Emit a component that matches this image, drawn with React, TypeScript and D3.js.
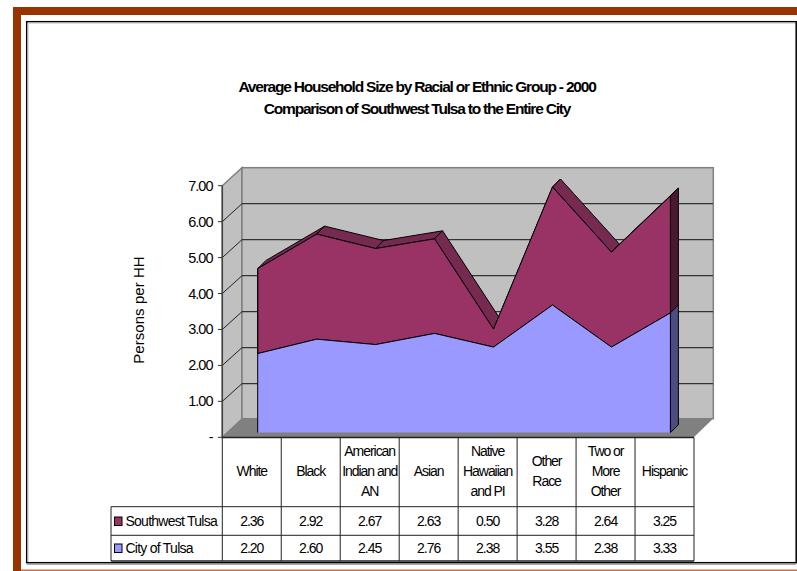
import React from "react";
import * as d3 from "d3";

const title = ["Average Household Size by Racial or Ethnic Group - 2000", "Comparison of Southwest Tulsa to the Entire City"];
const categories = [["White"], ["Black"], ["American", "Indian and", "AN"], ["Asian"], ["Native", "Hawaiian", "and PI"], ["Other", "Race"], ["Two or", "More", "Other"], ["Hispanic"]];
const southwest = [2.36, 2.92, 2.67, 2.63, 0.5, 3.28, 2.64, 3.25];
const city = [2.2, 2.6, 2.45, 2.76, 2.38, 3.55, 2.38, 3.33];
const ticks = [0, 1, 2, 3, 4, 5, 6, 7];
const FONT = "'Liberation Sans', Arial, sans-serif";

const yFront = d3.scaleLinear().domain([0, 7]).range([437.3, 185.7]);
const yBack = d3.scaleLinear().domain([0, 7]).range([419.6, 167.7]);
const ySeries = d3.scaleLinear().domain([0, 7]).range([432.7, 180.9]);
const xCol = d3.scaleLinear().domain([0, 8]).range([222.3, 694]);
const xSeries = d3.scaleLinear().domain([0, 7]).range([257.7, 670.4]);
const D = 8;

const pts = (a: number[][]) => a.map((p) => p.join(",")).join(" ");

export default function App() {
  const total = city.map((v, i) => v + southwest[i]);
  const line = d3.line<number>().x((_, i) => xSeries(i)).y((v) => ySeries(v));
  const area = (lo: number[] | null, hi: number[]) =>
    d3.area<number>().x((_, i) => xSeries(i)).y0((_, i) => ySeries(lo ? lo[i] : 0)).y1((v) => ySeries(v))(hi) as string;
  const txt = { fontFamily: FONT, fill: "#000" };
  const rows = [
    { name: "Southwest Tulsa", color: "#993366", vals: southwest, top: 506.7, bot: 535.3 },
    { name: "City of Tulsa", color: "#9999FF", vals: city, top: 535.3, bot: 560.7 },
  ];
  const lastX = xSeries(7);
  return (
    <svg width={797} height={571} style={{ position: "absolute", left: 0, top: 0, display: "block", background: "#fff" }}>
      {/* frame */}
      <rect x={13} y={7} width={784} height={8} fill="#993300" />
      <rect x={13} y={7} width={8} height={564} fill="#993300" />
      <rect x={21} y={569.5} width={776} height={1.5} fill="#C9704A" />
      <rect x={26.7} y={21.7} width={769.5} height={541} fill="#fff" stroke="#000" strokeWidth={1.5} />
      <line x1={28} y1={23} x2={795} y2={23} stroke="#bbb" />
      <line x1={28} y1={23} x2={28} y2={561} stroke="#bbb" />
      <line x1={27} y1={564.5} x2={796} y2={564.5} stroke="#aaa" />

      {/* title */}
      {title.map((t, i) => (
        <text key={t} x={417} y={92 + i * 22} textAnchor="middle" fontSize={15.5} fontWeight="bold" letterSpacing={-1.2} style={txt}>{t}</text>
      ))}
      <text transform="translate(144,310) rotate(-90)" textAnchor="middle" fontSize={15} letterSpacing={0.05} style={txt}>Persons per HH</text>

      {/* walls */}
      <polygon points={pts([[222.3, yFront(7)], [242, 167.7], [242, 419], [222.3, 437.3]])} fill="#C0C0C0" stroke="#808080" strokeWidth={1.5} />
      <rect x={242} y={167.7} width={471.3} height={251} fill="#C0C0C0" stroke="#808080" strokeWidth={1.5} />
      <polygon points={pts([[222.3, 437.3], [242, 418.5], [713.3, 418.5], [693.8, 437.3]])} fill="#808080" />
      {ticks.slice(1, 7).map((t) => (
        <g key={t} stroke="#333" strokeWidth={1.2}>
          <line x1={242} x2={713} y1={yBack(t)} y2={yBack(t)} />
          <line x1={222.3} x2={242} y1={yFront(t)} y2={yBack(t)} stroke="#222" strokeWidth={1} />
        </g>
      ))}
      <line x1={222.3} y1={185.7} x2={222.3} y2={437.3} stroke="#444" strokeWidth={1.5} />
      {ticks.map((t) => (
        <g key={t}>
          <line x1={218} x2={222.3} y1={yFront(t)} y2={yFront(t)} stroke="#333" />
          <text x={212.5} y={yFront(t) + 5} textAnchor="end" fontSize={14.5} letterSpacing={-1} style={txt}>{t === 0 ? "-" : t.toFixed(2)}</text>
        </g>
      ))}

      {/* top faces */}
      {total.slice(0, -1).map((v, i) => {
        const x0 = xSeries(i), x1 = xSeries(i + 1), y0 = ySeries(v), y1 = ySeries(total[i + 1]);
        return <polygon key={i} points={pts([[x0, y0], [x1, y1], [x1 + D, y1 - D], [x0 + D, y0 - D]])} fill="#772A50" stroke="#000" strokeWidth={1} strokeLinejoin="round" />;
      })}
      {/* right side faces */}
      <polygon points={pts([[lastX, ySeries(total[7])], [lastX + D, ySeries(total[7]) - D], [lastX + D, ySeries(city[7]) - D], [lastX, ySeries(city[7])]])} fill="#4A1931" stroke="#000" strokeWidth={1} />
      <polygon points={pts([[lastX, ySeries(city[7])], [lastX + D, ySeries(city[7]) - D], [lastX + D, ySeries(0) - D], [lastX, ySeries(0)]])} fill="#4C4C80" stroke="#000" strokeWidth={1} />

      {/* front faces */}
      <path d={area(city, total)} fill="#993366" stroke="#000" strokeWidth={1} strokeLinejoin="round" />
      <path d={area(null, city)} fill="#9999FF" stroke="none" />
      <path d={line(city) as string} fill="none" stroke="#000" strokeWidth={1} />
      <line x1={xSeries(0)} x2={xSeries(0)} y1={ySeries(total[0])} y2={ySeries(0)} stroke="#000" />
      <line x1={lastX} x2={lastX} y1={ySeries(city[7])} y2={ySeries(0)} stroke="#000" />
      <line x1={xSeries(0)} x2={lastX} y1={ySeries(0) + 0.5} y2={ySeries(0) + 0.5} stroke="#808080" />

      {/* data table */}
      <g stroke="#222" strokeWidth={1} fill="none">
        <line x1={222.3} x2={694} y1={437.5} y2={437.5} strokeWidth={1.5} />
        <line x1={111} x2={694} y1={506.7} y2={506.7} />
        <line x1={111} x2={694} y1={535.3} y2={535.3} />
        <line x1={111} x2={694} y1={561} y2={561} strokeWidth={1.5} />
        <line x1={111} x2={111} y1={506.7} y2={561} />
        {d3.range(9).map((i) => (
          <line key={i} x1={xCol(i)} x2={xCol(i)} y1={437.5} y2={561} />
        ))}
      </g>
      {categories.map((lines, i) => {
        const cx = (xCol(i) + xCol(i + 1)) / 2;
        const start = 476 - ((lines.length - 1) * 20.3) / 2;
        return lines.map((l, j) => (
          <text key={l} x={cx} y={start + j * 20.3} textAnchor="middle" fontSize={14} letterSpacing={-1.05} style={txt}>{l}</text>
        ));
      })}
      {rows.map((r) => (
        <g key={r.name}>
          <rect x={114.5} y={(r.top + r.bot) / 2 - 4} width={7.5} height={8.5} fill={r.color} stroke="#000" strokeWidth={1} />
          <text x={125.5} y={(r.top + r.bot) / 2 + 5} fontSize={14} letterSpacing={-0.75} style={txt}>{r.name}</text>
          {r.vals.map((v, i) => (
            <text key={i} x={(xCol(i) + xCol(i + 1)) / 2} y={(r.top + r.bot) / 2 + 5} textAnchor="middle" fontSize={14} letterSpacing={-1} style={txt}>{v.toFixed(2)}</text>
          ))}
        </g>
      ))}
    </svg>
  );
}
